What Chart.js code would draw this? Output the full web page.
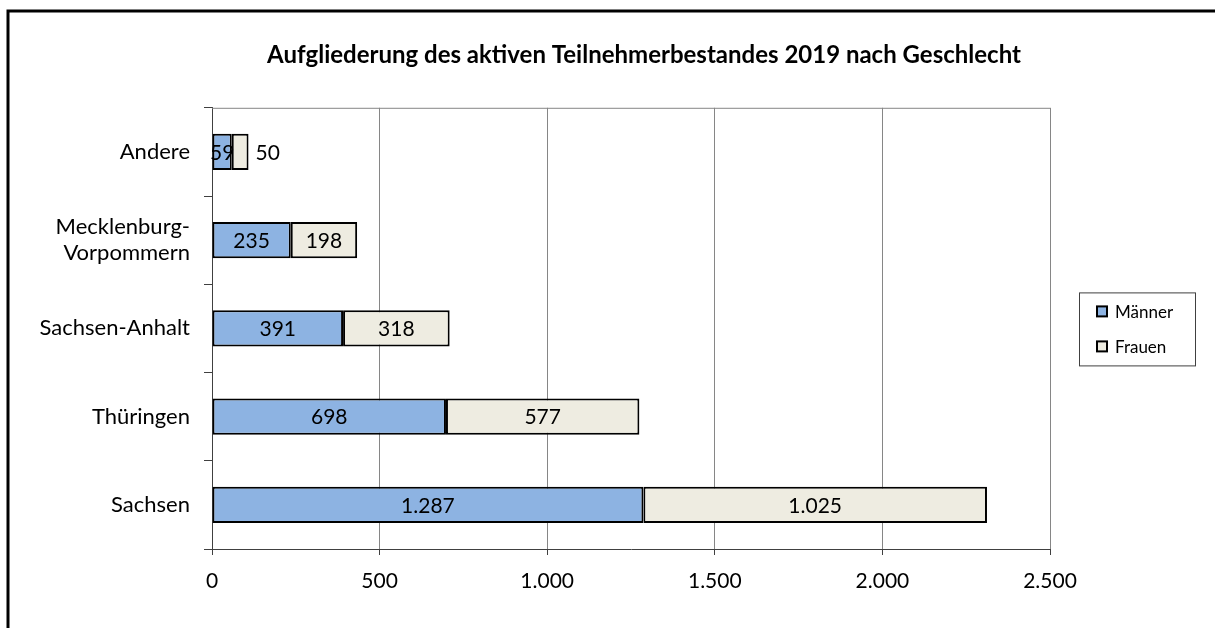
<!DOCTYPE html>
<html>
<head>
<meta charset="utf-8">
<script src="https://cdn.jsdelivr.net/npm/chart.js@4"></script>
<style>
  html, body { margin: 0; padding: 0; background: #fff; overflow: hidden; }
  #wrap { width: 1215px; height: 628px; }
</style>
</head>
<body>
<div id="wrap"><canvas id="chart"></canvas></div>
<script>
const regions = ["Andere", ["Mecklenburg-", "Vorpommern"], "Sachsen-Anhalt", "Thüringen", "Sachsen"];
const maenner = [59, 235, 391, 698, 1287];
const frauen = [50, 198, 318, 577, 1025];
const seriesNames = ["Männer", "Frauen"];
const seriesColors = ["#8DB3E2", "#EEECE1"];
const chartTitle = "Aufgliederung des aktiven Teilnehmerbestandes 2019 nach Geschlecht";

const fontFamily = "Lato, 'Noto Sans', sans-serif";

function deNum(v) {
  return String(v).replace(/\B(?=(\d{3})+(?!\d))/g, ".");
}

const framePlugin = {
  id: 'frame',
  afterLayout(chart) {
    // title sits a little right of the plot centre
    const t = chart.titleBlock;
    if (t) { t.left += 13; t.right += 13; }
  },
  beforeDraw(chart) {
    const ctx = chart.ctx;
    ctx.save();
    ctx.fillStyle = '#fff';
    ctx.fillRect(0, 0, chart.width, chart.height);
    ctx.strokeStyle = '#000';
    ctx.lineWidth = 3;
    ctx.strokeRect(8, 11, chart.width + 50, chart.height + 50);
    ctx.restore();
  },
  beforeDatasetsDraw(chart) {
    // top border of the plot area
    const {ctx, chartArea} = chart;
    ctx.save();
    ctx.strokeStyle = '#868686';
    ctx.lineWidth = 1;
    ctx.beginPath();
    ctx.moveTo(chartArea.left, chartArea.top + 0.5);
    ctx.lineTo(chartArea.right, chartArea.top + 0.5);
    ctx.stroke();
    ctx.restore();
  }
};

const labelPlugin = {
  id: 'barLabels',
  afterDatasetsDraw(chart) {
    const ctx = chart.ctx;
    ctx.save();
    ctx.font = "21px " + fontFamily;
    ctx.fillStyle = '#000';
    ctx.textBaseline = 'middle';
    chart.data.datasets.forEach((ds, di) => {
      const meta = chart.getDatasetMeta(di);
      meta.data.forEach((bar, i) => {
        const txt = deNum(ds.data[i]);
        const w = ctx.measureText(txt).width;
        const segW = Math.abs(bar.x - bar.base);
        if (di === chart.data.datasets.length - 1 && w > segW) {
          ctx.textAlign = 'left';
          ctx.fillText(txt, bar.x + 7, bar.y + 1);
        } else {
          ctx.textAlign = 'center';
          ctx.fillText(txt, (bar.x + bar.base) / 2, bar.y + 1);
        }
      });
    });
    ctx.restore();
  }
};

const legendPlugin = {
  id: 'boxLegend',
  afterDraw(chart) {
    const {ctx, chartArea} = chart;
    const left = chartArea.right + 29;
    const mid = (chartArea.top + chartArea.bottom) / 2;
    const top = mid - 36;
    ctx.save();
    ctx.strokeStyle = '#404040';
    ctx.lineWidth = 1;
    ctx.strokeRect(left + 0.5, top + 0.5, 116, 73);
    ctx.font = "17px " + fontFamily;
    ctx.textBaseline = 'middle';
    ctx.textAlign = 'left';
    chart.data.datasets.forEach((ds, i) => {
      const cy = top + 19 + i * 35;
      ctx.fillStyle = ds.backgroundColor;
      ctx.fillRect(left + 18, cy - 5, 10, 10);
      ctx.strokeStyle = '#000';
      ctx.lineWidth = 2;
      ctx.strokeRect(left + 18, cy - 5, 10, 10);
      ctx.fillStyle = '#000';
      ctx.fillText(ds.label, left + 36, cy + 1);
    });
    ctx.restore();
  }
};

new Chart(document.getElementById('chart'), {
  type: 'bar',
  data: {
    labels: regions,
    datasets: [
      {label: seriesNames[0], data: maenner, backgroundColor: seriesColors[0]},
      {label: seriesNames[1], data: frauen, backgroundColor: seriesColors[1]}
    ]
  },
  options: {
    indexAxis: 'y',
    responsive: true,
    maintainAspectRatio: false,
    animation: false,
    layout: {padding: {left: 10, right: 165, top: 0, bottom: 0}},
    datasets: {
      bar: {
        borderColor: '#000',
        borderWidth: 2,
        borderSkipped: false,
        barPercentage: 0.41,
        categoryPercentage: 1
      }
    },
    plugins: {
      legend: {display: false},
      tooltip: {enabled: false},
      title: {
        display: true,
        text: chartTitle,
        fullSize: false,
        color: '#000',
        font: {family: fontFamily, size: 24, weight: 'bold'},
        padding: {top: 41, bottom: 38}
      }
    },
    scales: {
      x: {
        stacked: true,
        min: 0,
        max: 2500,
        afterFit(scale) { scale.height = 79; },
        ticks: {
          stepSize: 500,
          color: '#000',
          padding: 14,
          font: {family: fontFamily, size: 21},
          callback: v => deNum(v)
        },
        grid: {color: '#868686', tickColor: '#404040', tickLength: 6},
        border: {color: '#404040', width: 1}
      },
      y: {
        stacked: true,
        afterFit(scale) { scale.width = 202; },
        ticks: {
          color: '#000',
          padding: 14,
          font: {family: fontFamily, size: 22, lineHeight: 1.2}
        },
        grid: {drawOnChartArea: false, color: '#404040', tickLength: 8},
        border: {color: '#404040', width: 1}
      }
    }
  },
  plugins: [framePlugin, labelPlugin, legendPlugin]
});
</script>
</body>
</html>
